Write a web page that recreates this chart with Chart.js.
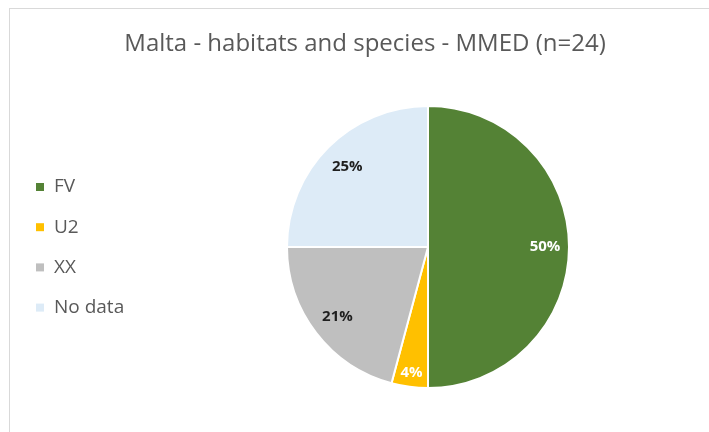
<!DOCTYPE html>
<html>
<head>
<meta charset="utf-8">
<script src="https://cdn.jsdelivr.net/npm/chart.js@4/dist/chart.umd.min.js"></script>
<style>
  html, body { margin: 0; padding: 0; background: #fff; }
  #wrap { position: relative; width: 709px; height: 432px; }
  #frame { position: absolute; left: 9px; top: 8px; right: -2px; bottom: -2px; border: 1px solid #d9d9d9; }
  canvas { position: absolute; left: 0; top: 0; }
</style>
</head>
<body>
<div id="wrap">
  <div id="frame"></div>
  <canvas id="c" width="709" height="432"></canvas>
</div>
<script>
// Conservation status shares, Malta (MMED region), n = 24
const chartTitle = 'Malta - habitats and species - MMED (n=24)';
const categories = ['FV', 'U2', 'XX', 'No data'];
const counts = [12, 1, 5, 6];
const sliceColors = ['#548235', '#FFC000', '#BFBFBF', '#DDEBF7'];
const labelColors = ['#ffffff', '#ffffff', '#1f1f1f', '#1f1f1f'];
const labelRadius = [0.83, 0.9, 0.81, 0.81];

const FONT = '"Open Sans", "Liberation Sans", sans-serif';

// Title drawn centred above the pie
const titlePlugin = {
  id: 'titleText',
  afterDraw(chart) {
    const ctx = chart.ctx;
    ctx.save();
    ctx.font = '24px ' + FONT;
    ctx.fillStyle = '#595959';
    ctx.textAlign = 'center';
    ctx.textBaseline = 'middle';
    ctx.fillText(chartTitle, 365, 44);
    ctx.restore();
  }
};

// Legend column on the left: small squares with category names
const legendPlugin = {
  id: 'sideLegend',
  afterDraw(chart) {
    const ctx = chart.ctx;
    ctx.save();
    ctx.font = '19px ' + FONT;
    ctx.textBaseline = 'middle';
    categories.forEach((name, i) => {
      const y = 187 + i * 40.2;
      ctx.fillStyle = sliceColors[i];
      ctx.fillRect(36, y - 4, 8, 8);
      ctx.fillStyle = '#595959';
      ctx.fillText(name, 54, y);
    });
    ctx.restore();
  }
};

// Percentage labels placed inside each slice
const sliceLabels = {
  id: 'sliceLabels',
  afterDatasetsDraw(chart) {
    const ctx = chart.ctx;
    const meta = chart.getDatasetMeta(0);
    const data = chart.data.datasets[0].data;
    const total = data.reduce((a, b) => a + b, 0);
    ctx.save();
    ctx.font = 'bold 15px ' + FONT;
    ctx.textAlign = 'center';
    ctx.textBaseline = 'middle';
    meta.data.forEach((arc, i) => {
      const p = arc.getProps(['x', 'y', 'startAngle', 'endAngle', 'outerRadius'], true);
      const mid = (p.startAngle + p.endAngle) / 2;
      const r = p.outerRadius * labelRadius[i];
      const pct = Math.round(data[i] / total * 100) + '%';
      ctx.fillStyle = labelColors[i];
      ctx.fillText(pct, p.x + Math.cos(mid) * r, p.y + Math.sin(mid) * r);
    });
    ctx.restore();
  }
};

new Chart(document.getElementById('c'), {
  type: 'pie',
  data: {
    labels: categories,
    datasets: [{
      data: counts,
      backgroundColor: sliceColors,
      borderColor: '#ffffff',
      borderWidth: 2
    }]
  },
  options: {
    responsive: false,
    animation: false,
    layout: { padding: { left: 286, top: 105, right: 139, bottom: 43 } },
    plugins: {
      legend: { display: false },
      title: { display: false },
      tooltip: { enabled: false }
    }
  },
  plugins: [titlePlugin, legendPlugin, sliceLabels]
});
</script>
</body>
</html>
